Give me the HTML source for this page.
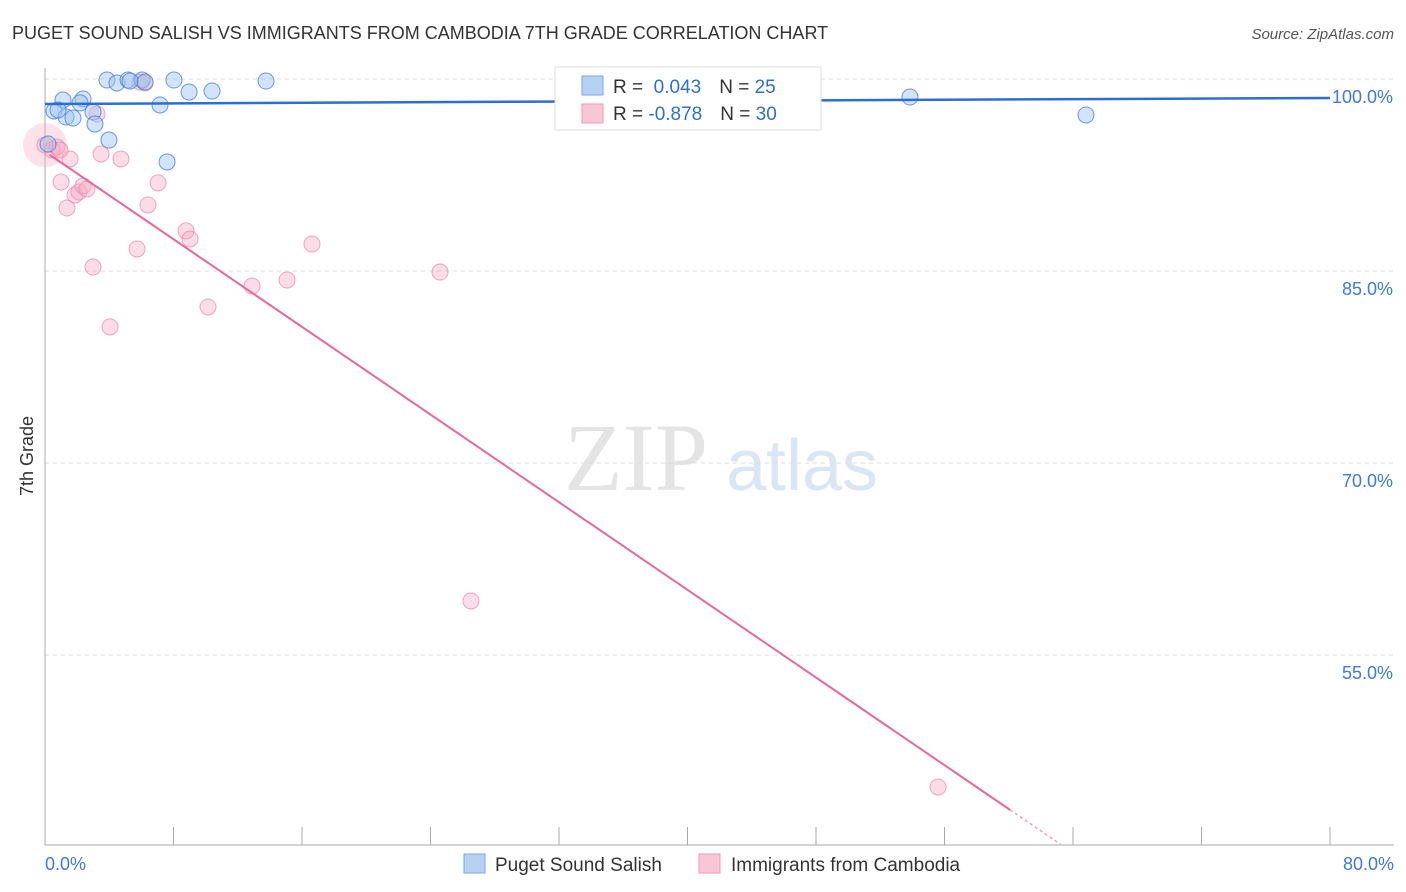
<!DOCTYPE html>
<html><head><meta charset="utf-8">
<style>
body{margin:0;background:#fff;font-family:"Liberation Sans",sans-serif;}
svg{display:block}
</style></head>
<body>
<svg id="chart" width="1406" height="892" viewBox="0 0 1406 892">
<text x="12" y="39" font-size="18" fill="#333">PUGET SOUND SALISH VS IMMIGRANTS FROM CAMBODIA 7TH GRADE CORRELATION CHART</text>
<text x="1394" y="39" font-size="15" fill="#555" font-style="italic" text-anchor="end">Source: ZipAtlas.com</text>
<text x="0" y="0" transform="translate(33,456) rotate(-90)" font-size="18" fill="#333" text-anchor="middle">7th Grade</text>
<g>
<text x="636" y="490" font-size="96" fill="#e4e4e4" font-family="Liberation Serif,serif" text-anchor="middle">ZIP</text>
<text x="802" y="490" font-size="72" fill="#dbe6f5" text-anchor="middle">atlas</text>
</g>
<g id="grid"></g>
<g id="axes"></g>
<g id="marks"></g>
<g>
<rect x="555" y="67" width="266" height="63" fill="#fff" stroke="#ddd"/>
<rect x="582" y="76" width="21" height="19" fill="#b7d1f5" stroke="#7aa6e6"/>
<rect x="582" y="104" width="21" height="19" fill="#f9c6d6" stroke="#ef9ab6"/>
<text x="613" y="93" font-size="19" fill="#333">R = <tspan fill="#2f6fd0">&#160;0.043</tspan><tspan dx="18">N = </tspan><tspan fill="#2f6fd0">25</tspan></text>
<text x="613" y="120" font-size="19" fill="#333">R = <tspan fill="#2f6fd0">-0.878</tspan><tspan dx="18">N = </tspan><tspan fill="#2f6fd0">30</tspan></text>
</g>
<g>
<rect x="464" y="854" width="21" height="19" fill="#b7d1f5" stroke="#7aa6e6"/>
<text x="495" y="871" font-size="19" fill="#333">Puget Sound Salish</text>
<rect x="699" y="854" width="21" height="19" fill="#f9c6d6" stroke="#ef9ab6"/>
<text x="731" y="871" font-size="19" fill="#333">Immigrants from Cambodia</text>
</g>
</svg>
<script>
const yTicks=[100,85,70,55];
const yTickLabels=["100.0%","85.0%","70.0%","55.0%"];
const xTickLabels=["0.0%","80.0%"];
const blueX=[3.86,4.48,5.17,6.04,8.03,13.76,8.97,10.40,1.12,2.37,2.18,0.56,1.31,1.74,2.99,3.11,7.16,3.98,7.60,0.19,53.85,64.81,6.23,0.81,5.29];
const blueY=[99.92,99.69,99.92,99.92,99.92,99.84,98.98,99.06,98.36,98.44,98.13,97.5,97.03,96.95,97.42,96.48,97.97,95.23,93.52,94.92,98.59,97.19,99.77,97.58,99.84];
const pinkX=[0,0.44,0.75,1.56,3.24,3.49,4.73,5.91,6.23,1.0,1.37,1.87,2.12,2.37,2.61,6.41,7.04,8.78,9.03,5.73,2.99,4.05,10.15,12.89,15.07,16.62,24.59,26.52,55.6,0.93];
const pinkY=[94.84,94.45,94.69,93.75,97.27,94.14,93.75,99.77,99.69,91.95,89.92,90.94,91.17,91.64,91.41,90.16,91.88,88.13,87.5,86.72,85.31,80.63,82.19,83.83,84.3,87.11,84.92,59.22,44.69,94.45];
const blueTrend=[98.05,98.52];
const pinkTrend=[94.33,25.85];
const NS="http://www.w3.org/2000/svg";
const X=v=>45+v/80*1285;
const Y=v=>79+(100-v)*12.8;
function mk(tag,attrs,parent){const e=document.createElementNS(NS,tag);for(const k in attrs)e.setAttribute(k,attrs[k]);parent.appendChild(e);return e;}
const grid=document.getElementById('grid'),axes=document.getElementById('axes'),marks=document.getElementById('marks');
yTicks.forEach((t,i)=>{
 const l=mk('line',{x1:45,x2:1394,y1:Y(t),y2:Y(t),stroke:'#ddd','stroke-dasharray':'4,4'},grid);
 
 
 const tx=mk('text',{x:1393,y:Y(t)+24,'font-size':18,fill:'#3d7bd6','text-anchor':'end'},axes);
 tx.textContent=yTickLabels[i];
 
 
});
mk('line',{x1:45,x2:45,y1:68,y2:845,stroke:'#aaa'},axes);
mk('line',{x1:45,x2:1394,y1:845,y2:845,stroke:'#aaa'},axes);
for(let i=1;i<=10;i++){mk('line',{x1:X(i*8),x2:X(i*8),y1:827,y2:845,stroke:'#aaa'},axes);}
[[0,45,'start'],[80,1394,'end']].forEach((d,i)=>{
 const tx=mk('text',{x:d[1],y:870,'font-size':18,fill:'#3d7bd6','text-anchor':d[2]},axes);
 tx.textContent=xTickLabels[i];
 
 
});
// big pink point at origin
const big=mk('circle',{cx:X(0),cy:Y(94.84),r:22,fill:'rgba(246,170,196,0.35)',stroke:'none'},marks);


pinkX.forEach((x,i)=>{
 const c=mk('circle',{cx:X(x),cy:Y(pinkY[i]),r:8,fill:'rgba(246,170,196,0.4)',stroke:'rgba(236,130,165,0.7)','stroke-width':1},marks);
 
 
});
blueX.forEach((x,i)=>{
 const c=mk('circle',{cx:X(x),cy:Y(blueY[i]),r:8,fill:'rgba(160,195,240,0.45)',stroke:'rgba(70,130,215,0.8)','stroke-width':1},marks);
 
 
});
const bl=mk('line',{x1:X(0),y1:Y(blueTrend[0]),x2:X(80),y2:Y(blueTrend[1]),stroke:'#2a6fd6','stroke-width':2.5},marks);


// pink trend: solid until ~42.9%, dashed to axis bottom
const slope=(pinkTrend[1]-pinkTrend[0])/80;
const xAt=v=>(v-pinkTrend[0])/slope;
const xs=xAt(42.9), xe=xAt(40.2);
const pl=mk('line',{x1:X(0.3),y1:Y(pinkTrend[0]+slope*0.3),x2:X(xs),y2:Y(42.9),stroke:'#e8679a','stroke-width':2},marks);


const pd=mk('line',{x1:X(xs),y1:Y(42.9),x2:X(xe),y2:Y(40.2),stroke:'#e8a0bc','stroke-width':1.5,'stroke-dasharray':'3,3'},marks);


</script>
</body></html>
